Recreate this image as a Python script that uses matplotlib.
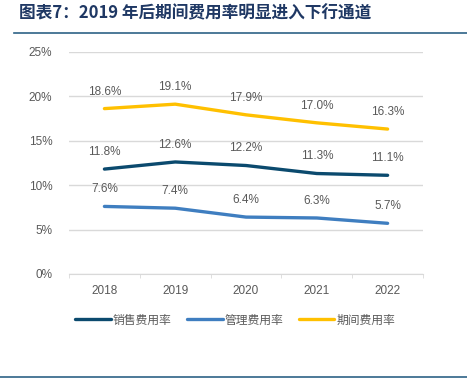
import matplotlib.pyplot as plt

plt.rcParams['font.family'] = ['Noto Sans CJK SC', 'DejaVu Sans']

years = ['2018', '2019', '2020', '2021', '2022']
sales = [11.8, 12.6, 12.2, 11.3, 11.1]
admin = [7.6, 7.4, 6.4, 6.3, 5.7]
period = [18.6, 19.1, 17.9, 17.0, 16.3]
yticks = [0, 5, 10, 15, 20, 25]

series = [
    ('销售费用率', sales, '#0B4A6E'),
    ('管理费用率', admin, '#3F7EC0'),
    ('期间费用率', period, '#FFC000'),
]

num_font = 'Liberation Sans'

fig = plt.figure(figsize=(4.67, 3.83), dpi=100)
ax = fig.add_axes([0.1478, 0.2846, 0.758, 0.5804])

x = range(len(years))
for name, vals, color in series:
    ax.plot(x, vals, color=color, lw=2.4, label=name, solid_capstyle='round')
    for xi, v in zip(x, vals):
        ax.annotate(f'{v:.1f}%', (xi, v), xytext=(0, 8), textcoords='offset points',
                    ha='center', va='bottom', fontsize=8.5, color='#595959',
                    family=num_font)

ax.set_xlim(-0.5, len(years) - 0.5)
ax.set_ylim(0, 25)
ax.set_yticks(yticks)
ax.set_yticklabels([f'{t}%' for t in yticks], family=num_font)
ax.set_xticks(list(x))
ax.set_xticklabels(years, family=num_font)
ax.set_xticks([i - 0.5 for i in range(len(years) + 1)], minor=True)
ax.tick_params(axis='x', which='major', length=0, pad=8, labelsize=8.5, colors='#595959')
ax.tick_params(axis='x', which='minor', length=3, color='#D9D9D9')
ax.tick_params(axis='y', length=0, pad=12, labelsize=8.5, colors='#595959')
ax.grid(axis='y', color='#D9D9D9', lw=1)
ax.set_axisbelow(True)
for s in ['top', 'right', 'left']:
    ax.spines[s].set_visible(False)
ax.spines['bottom'].set_color('#D9D9D9')

ax.legend(loc='upper center', bbox_to_anchor=(0.47, -0.13), ncol=3, frameon=False,
          fontsize=8.5, handlelength=3.0, handletextpad=0.2, columnspacing=1.3,
          labelcolor='#595959')

fig.text(0.04, 0.965, '图表7：2019 年后期间费用率明显进入下行通道', fontsize=12,
         fontweight='bold', style='italic', color='#1F3864', va='center')
fig.add_artist(plt.Line2D([0.03, 1.0], [0.915, 0.915], color='#2E6286', lw=1.2))
fig.add_artist(plt.Line2D([0.0, 1.0], [0.015, 0.015], color='#2E6286', lw=1.2))

fig.savefig('out.png', dpi=100)
